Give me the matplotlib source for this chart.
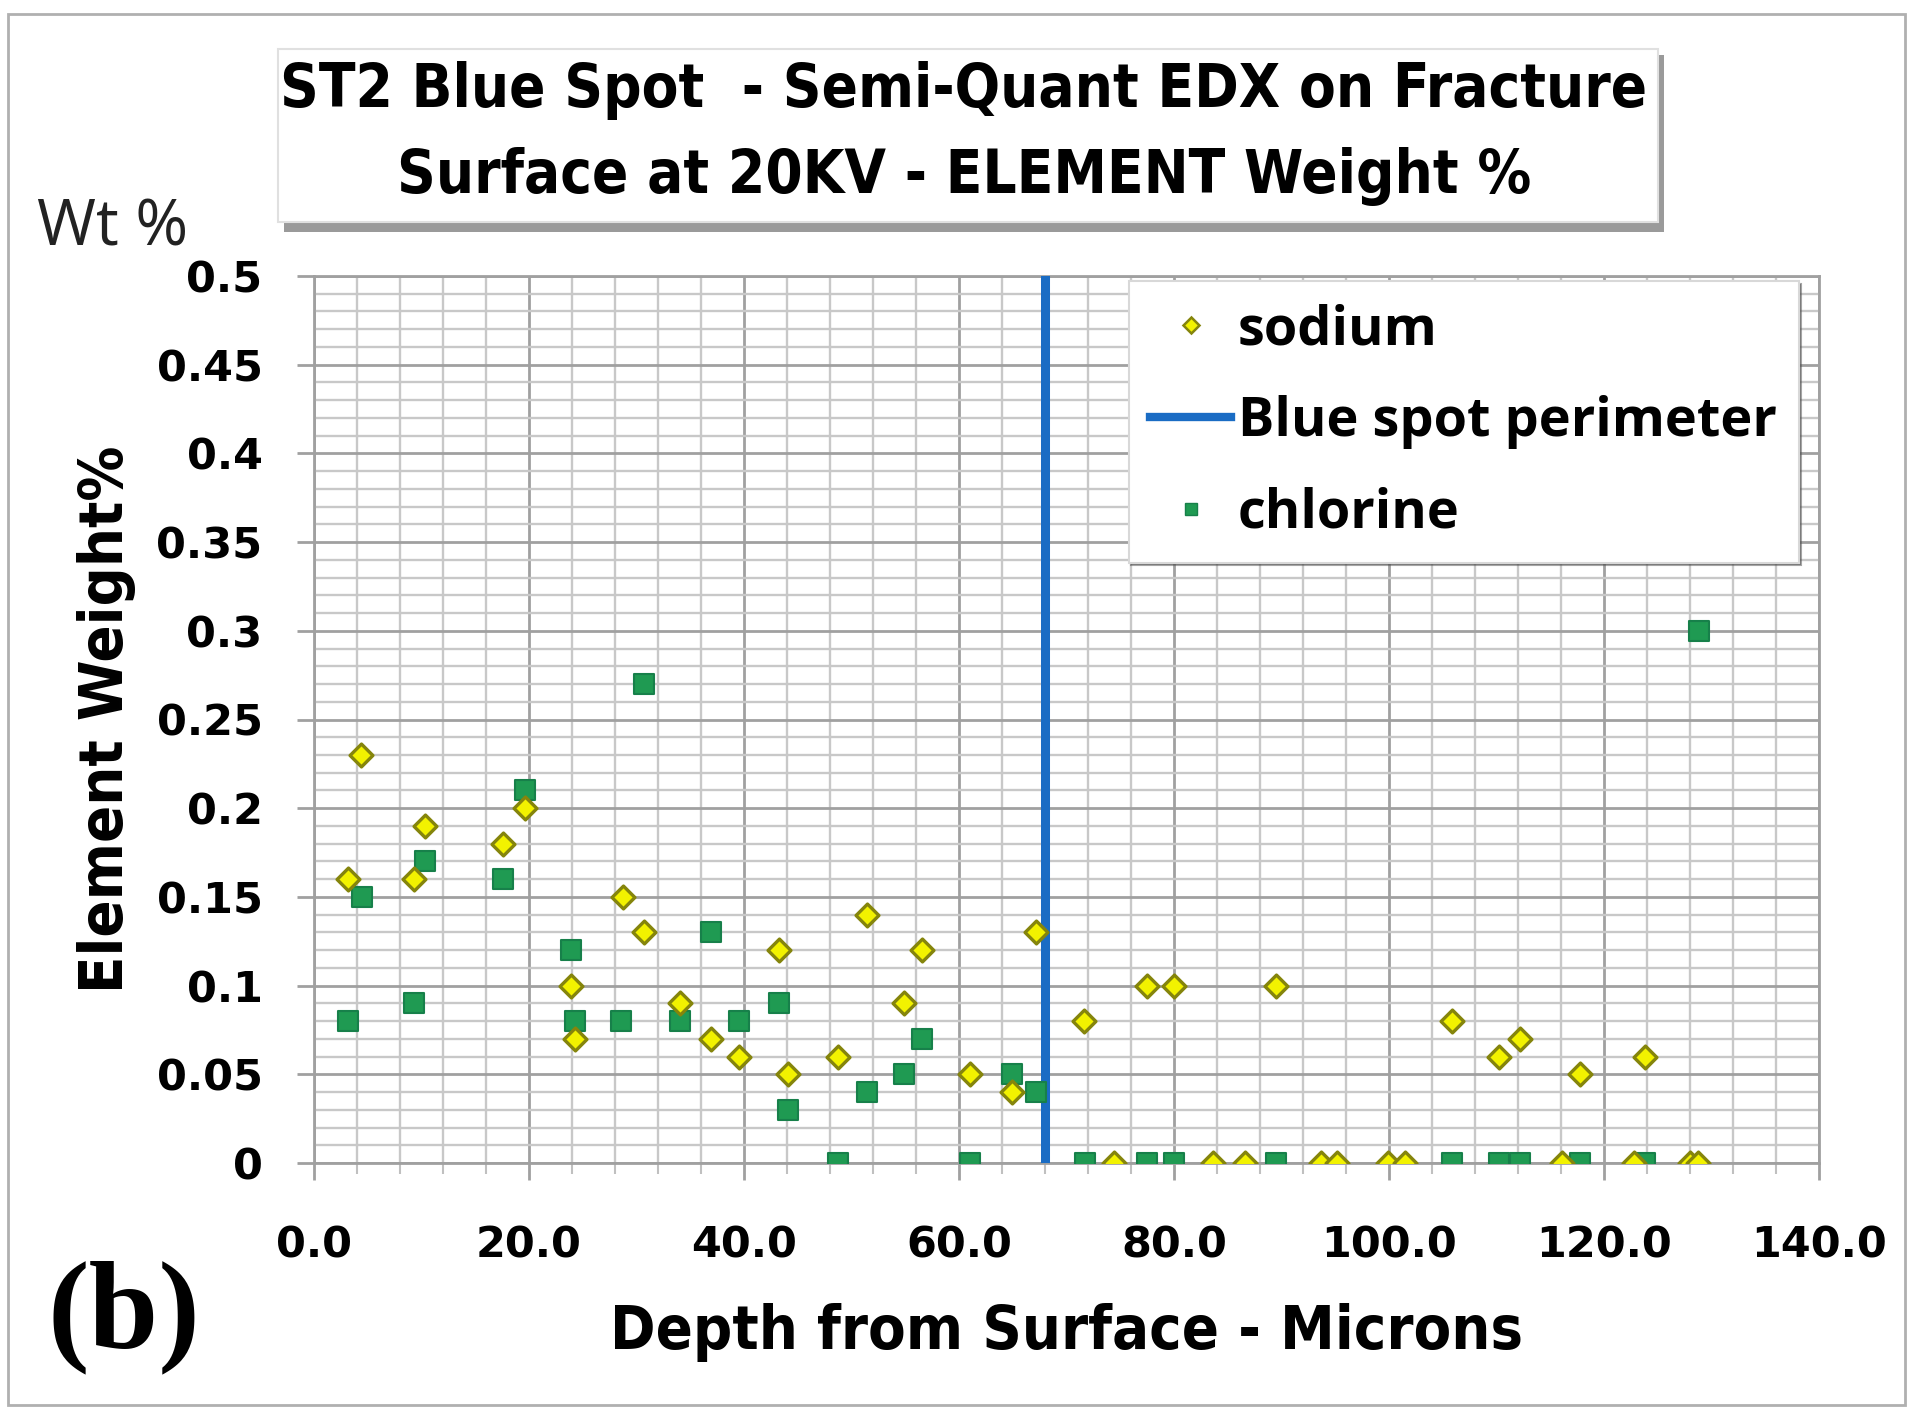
import matplotlib
matplotlib.use("Agg")
import matplotlib.pyplot as plt
from matplotlib.patches import Rectangle
from matplotlib.ticker import MultipleLocator, FormatStrFormatter, FuncFormatter
from matplotlib.lines import Line2D

# ---- data ----
sodium_x = [3.2, 4.4, 9.3, 10.3, 17.6, 19.6, 23.9, 24.3, 28.7, 30.7, 34.0, 36.9,
            39.5, 43.3, 44.1, 48.7, 51.4, 54.9, 56.6, 61.0, 64.9, 67.2, 71.6, 74.4,
            77.5, 80.0, 83.6, 86.6, 89.5, 93.7, 95.2, 99.9, 101.5, 105.9, 110.2,
            112.2, 116.1, 117.8, 122.8, 123.8, 128.0, 128.7]
sodium_y = [0.16, 0.23, 0.16, 0.19, 0.18, 0.20, 0.10, 0.07, 0.15, 0.13, 0.09, 0.07,
            0.06, 0.12, 0.05, 0.06, 0.14, 0.09, 0.12, 0.05, 0.04, 0.13, 0.08, 0.0,
            0.10, 0.10, 0.0, 0.0, 0.10, 0.0, 0.0, 0.0, 0.0, 0.08, 0.06,
            0.07, 0.0, 0.05, 0.0, 0.06, 0.0, 0.0]
chlorine_x = [3.2, 4.5, 9.3, 10.3, 17.6, 19.6, 23.9, 24.3, 28.6, 30.7, 34.0, 36.9,
              39.5, 43.3, 44.1, 48.7, 51.4, 54.9, 56.6, 61.0, 64.9, 67.2, 71.7,
              77.5, 80.0, 89.5, 105.9, 110.2, 112.2, 117.8, 123.8, 128.8]
chlorine_y = [0.08, 0.15, 0.09, 0.17, 0.16, 0.21, 0.12, 0.08, 0.08, 0.27, 0.08, 0.13,
              0.08, 0.09, 0.03, 0.0, 0.04, 0.05, 0.07, 0.0, 0.05, 0.04, 0.0,
              0.0, 0.0, 0.0, 0.0, 0.0, 0.0, 0.0, 0.0, 0.30]
perimeter_x = 68.0

x_ticks = [0, 20, 40, 60, 80, 100, 120, 140]
y_ticks = [0, 0.05, 0.1, 0.15, 0.2, 0.25, 0.3, 0.35, 0.4, 0.45, 0.5]
title_lines = ["ST2 Blue Spot  - Semi-Quant EDX on Fracture",
               "Surface at 20KV - ELEMENT Weight %"]

COND = dict(family="DejaVu Sans", fontstretch="condensed", fontweight="bold")

W, H = 1912, 1414
fig = plt.figure(figsize=(W / 100, H / 100), dpi=100)
fig.patch.set_facecolor("white")

# outer frame
fig.patches.append(Rectangle((8 / W, 1 - 1405 / H), (1905 - 8) / W, (1405 - 14) / H,
                             transform=fig.transFigure, fill=False,
                             edgecolor="#b0b0b0", linewidth=2, zorder=0))

ax = fig.add_axes([314 / W, 1 - 1163 / H, (1819 - 314) / W, (1163 - 276) / H])
ax.set_xlim(x_ticks[0], x_ticks[-1])
ax.set_ylim(y_ticks[0], y_ticks[-1])

ax.set_xticks(x_ticks)
ax.set_yticks(y_ticks)
ax.xaxis.set_minor_locator(MultipleLocator(4))
ax.yaxis.set_minor_locator(MultipleLocator(0.01))
ax.xaxis.set_major_formatter(FormatStrFormatter("%.1f"))
ax.yaxis.set_major_formatter(FuncFormatter(lambda v, p: ("%g" % round(v, 2))))

ax.grid(which="major", color="#a0a0a0", linewidth=2.0)
ax.grid(which="minor", color="#c8c8c8", linewidth=1.7)
ax.set_axisbelow(True)
for s in ax.spines.values():
    s.set_color("#a0a0a0")
    s.set_linewidth(2)

ax.tick_params(axis="both", which="major", length=12, width=2, color="#a0a0a0",
               direction="out")
ax.tick_params(axis="x", which="minor", length=8, width=1.5, color="#c0c0c0")
ax.tick_params(axis="y", which="minor", length=0)
ax.tick_params(axis="y", labelsize=31, pad=25)
ax.tick_params(axis="x", labelsize=31, pad=32)
for lab in ax.get_xticklabels() + ax.get_yticklabels():
    lab.set_fontweight("bold")
    lab.set_family("DejaVu Sans")

ax.scatter(sodium_x, sodium_y, marker="D", s=135, facecolor="#f2f200",
           edgecolor="#85850c", linewidth=2.4, zorder=4, label="sodium")
ax.axvline(perimeter_x, color="#1a6cc4", linewidth=6.5, zorder=3,
           label="Blue spot perimeter")
ax.scatter(chlorine_x, chlorine_y, marker="s", s=190, facecolor="#1f9a52",
           edgecolor="#17804a", linewidth=1.5, zorder=3, label="chlorine")

handles = [Line2D([], [], marker="D", linestyle="none", markersize=8,
                  markerfacecolor="#f2f200", markeredgecolor="#85850c",
                  markeredgewidth=1.8),
           Line2D([], [], color="#1a6cc4", linewidth=6),
           Line2D([], [], marker="s", linestyle="none", markersize=9,
                  markerfacecolor="#1f9a52", markeredgecolor="#17804a")]
leg = ax.legend(handles, ["sodium", "Blue spot perimeter", "chlorine"],
                loc="upper right", bbox_to_anchor=(0.99, 1.0),
                prop={"family": "Open Sans", "weight": "bold", "size": 39},
                frameon=True, fancybox=False, shadow=True, borderpad=0.4,
                labelspacing=0.7, handlelength=1.5, handletextpad=0.12,
                borderaxespad=0.1)
leg.get_frame().set_edgecolor("#d8d8d8")
leg.get_frame().set_linewidth(1.5)

# title box with shadow
fig.patches.append(Rectangle((284 / W, 1 - 232 / H), (1664 - 284) / W, (232 - 55) / H,
                             transform=fig.transFigure, facecolor="#9a9a9a",
                             edgecolor="none", zorder=1))
fig.patches.append(Rectangle((278 / W, 1 - 222 / H), (1658 - 278) / W, (222 - 49) / H,
                             transform=fig.transFigure, facecolor="white",
                             edgecolor="#e0e0e0", linewidth=1.5, zorder=2))
fig.text(964 / W, 1 - 90 / H, title_lines[0], ha="center", va="center",
         fontsize=43, zorder=3, **COND)
fig.text(964 / W, 1 - 176 / H, title_lines[1], ha="center", va="center",
         fontsize=43, zorder=3, **COND)

fig.text(37 / W, 1 - 228 / H, "Wt %", ha="left", va="center", fontsize=46,
         family="Open Sans", color="#222222")
fig.text(107 / W, 1 - 719 / H, "Element Weight%", ha="center", va="center",
         rotation=90, fontsize=44, **COND)
fig.text(1067 / W, 1 - 1333 / H, "Depth from Surface - Microns", ha="center",
         va="center", fontsize=44, **COND)
fig.text(124 / W, 1 - 1317 / H, "(b)", ha="center", va="center", fontsize=90,
         fontweight="bold", family="Liberation Serif")

fig.savefig("out.png", dpi=100, facecolor="white")
